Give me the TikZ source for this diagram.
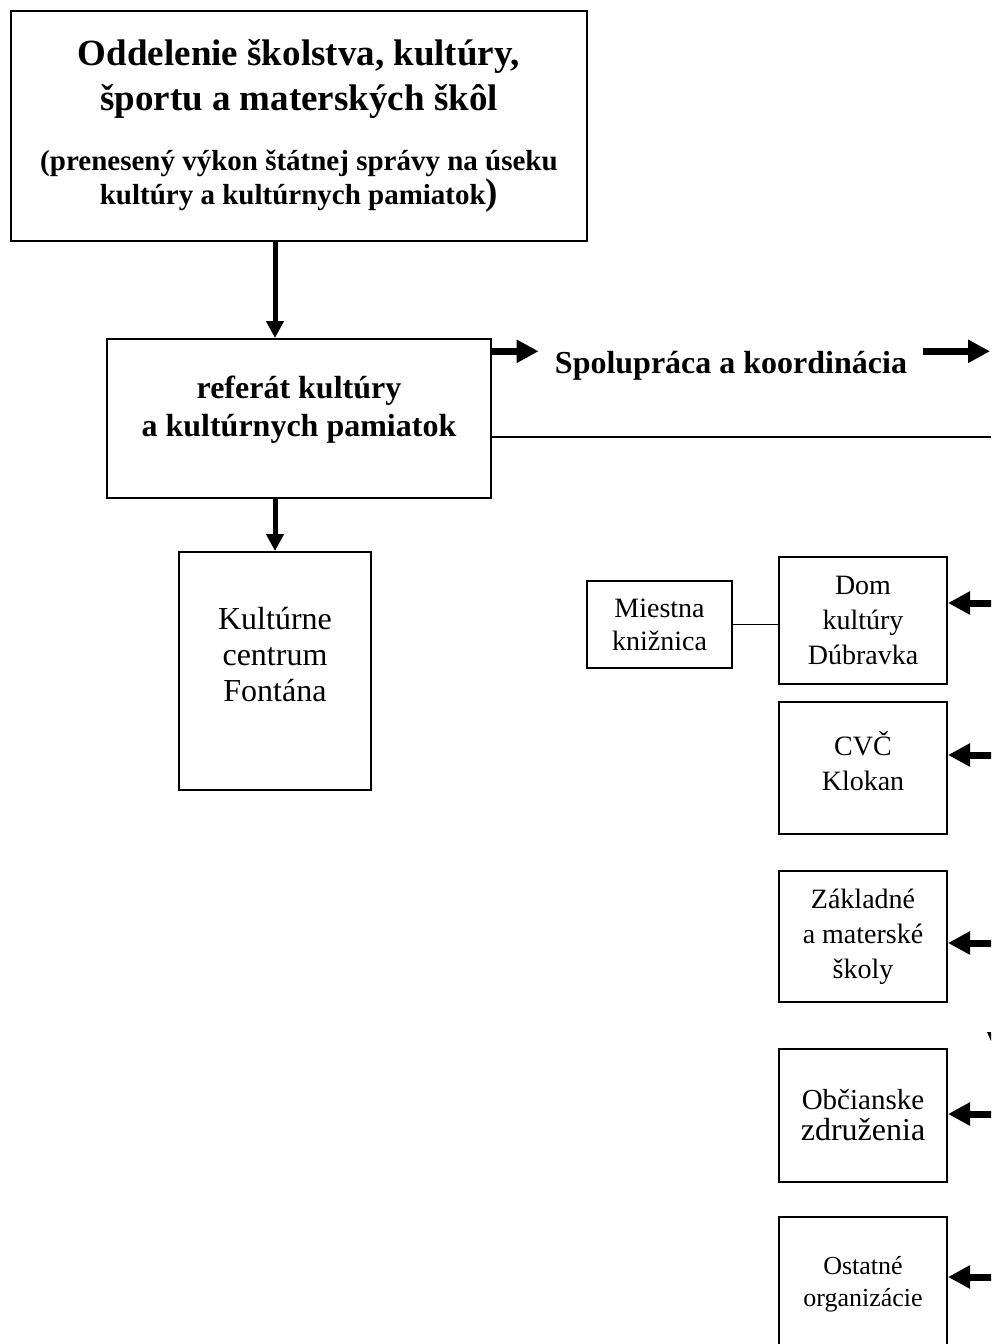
\documentclass[tikz,border=0pt]{standalone}
\usepackage{fontspec}
\setmainfont{Liberation Serif}
\usetikzlibrary{arrows.meta}

\tikzset{
  box/.style={draw, line width=1pt, align=center, inner sep=0pt, anchor=north west},
  flow/.style={line width=2.5pt, -{Triangle[length=8.5pt,width=8.5pt]}},
  flowh/.style={line width=3.5pt, -{Triangle[length=11pt,width=11pt]}},
}

\begin{document}
\begin{tikzpicture}[x=0.5pt, y=-0.5pt]
    \clip (0,0) rectangle (991,1344);

    % Main boxes
    \node[box, minimum width=288pt, minimum height=115pt, font=\bfseries\fontsize{14.5}{17}\selectfont] (odd) at (10,10)
        {{\fontsize{18.5}{22}\selectfont Oddelenie školstva, kultúry,}\\[4.5pt]
         {\fontsize{18.5}{22}\selectfont športu a materských škôl}\\[13pt]
         (prenesený výkon štátnej správy na úseku\\[0pt]
         kultúry a kultúrnych pamiatok{\fontsize{18.5}{22}\selectfont)}};
    \node[box, minimum width=192pt, minimum height=79.5pt, text depth=12.5pt,
          font=\bfseries\fontsize{16}{19}\selectfont] (ref) at (106,338)
        {referát kultúry\\a kultúrnych pamiatok};
    \node[box, minimum width=96pt, minimum height=119pt, text depth=17pt,
          font=\fontsize{16}{18}\selectfont] (kcf) at (178,551)
        {Kultúrne\\centrum\\Fontána};
    \node[anchor=base, inner xsep=8pt, font=\bfseries\fontsize{16}{19}\selectfont] (spk) at (731,373)
        {Spolupráca a koordinácia};

    % Organizations on the right
    \node[box, minimum width=72.5pt, minimum height=43.5pt, font=\fontsize{14}{16.5}\selectfont] (mk) at (586,580)
        {Miestna\\knižnica};
    \node[box, minimum width=84pt, minimum height=63.5pt, font=\fontsize{14}{17.5}\selectfont] (dk) at (778,556)
        {Dom\\kultúry\\Dúbravka};
    \node[box, minimum width=84pt, minimum height=66pt, text depth=7pt, font=\fontsize{14}{17.5}\selectfont] (cvc) at (778,701)
        {CVČ\\Klokan};
    \node[box, minimum width=84pt, minimum height=65.5pt, font=\fontsize{14}{17.5}\selectfont] (zms) at (778,870)
        {Základné\\a materské\\školy};
    \node[box, minimum width=84pt, minimum height=66.5pt, font=\fontsize{14.5}{15.5}\selectfont] (oz) at (778,1048)
        {Občianske\\{\fontsize{16}{15.5}\selectfont združenia}};
    \node[box, minimum width=84pt, minimum height=67pt, font=\fontsize{13}{16}\selectfont] (oo) at (778,1216)
        {Ostatné\\organizácie};

    % Free ends at the right edge
    \coordinate (redge) at (990,0);
    \coordinate (hline) at (991,437);
    \coordinate (in1) at (1000,603);
    \coordinate (in2) at (1000,755);
    \coordinate (in3) at (1000,943);
    \coordinate (in4) at (1000,1114);
    \coordinate (in5) at (1000,1277);
    \coordinate (spw) at ([yshift=7pt]spk.west);
    \coordinate (spe) at ([yshift=7pt]spk.east);

    % Connectors
    \draw[flow] (odd.south -| kcf.north) -- (ref.north -| kcf.north);
    \draw[flow] (ref.south -| kcf.north) -- (kcf.north);
    \draw[flowh] (ref.east |- spw) -- (spw);
    \draw[flowh] (spe) -- (spe -| redge);
    \draw[line width=1pt] (ref.east |- hline) -- (hline);
    \draw[line width=0.6pt] (mk.east) -- (mk.east -| dk.west);
    \draw[flowh] (in1) -- (in1 -| dk.east);
    \draw[flowh] (in2) -- (in2 -| cvc.east);
    \draw[flowh] (in3) -- (in3 -| zms.east);
    \draw[flowh] (in4) -- (in4 -| oz.east);
    \draw[flowh] (in5) -- (in5 -| oo.east);
    \fill (987,1032) -- (995,1032) -- (991,1041) -- cycle;
\end{tikzpicture}
\end{document}
